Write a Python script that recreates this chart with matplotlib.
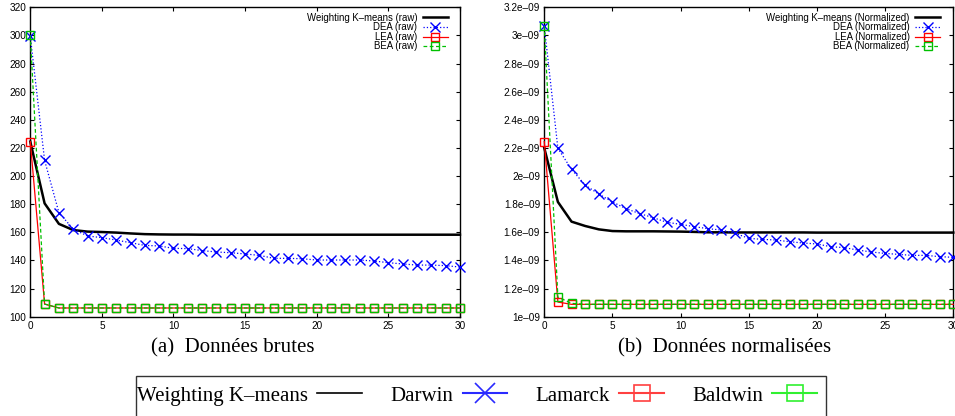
import matplotlib
matplotlib.use('Agg')
import matplotlib.pyplot as plt
import numpy as np
from matplotlib.lines import Line2D
from matplotlib.patches import Rectangle
from matplotlib.ticker import FuncFormatter

# iterations 0..30
iters = list(range(31))

# (a) raw data
wkm_raw = [224.5, 180.6, 166.0, 161.6, 160.5, 160.2, 159.8, 159.2, 158.7, 158.5,
           158.4, 158.4, 158.3, 158.3, 158.3, 158.3, 158.3, 158.3, 158.3, 158.3,
           158.3, 158.3, 158.3, 158.3, 158.3, 158.3, 158.3, 158.3, 158.3, 158.3, 158.3]
dea_raw = [299.5, 211.2, 174.0, 162.3, 157.4, 156.2, 154.5, 152.6, 150.7, 150.3,
           148.6, 148.4, 147.0, 146.0, 145.5, 144.6, 143.6, 141.5, 141.5, 141.2,
           140.3, 140.3, 140.3, 140.3, 139.6, 138.4, 137.5, 136.7, 136.7, 136.3, 135.3]
lea_raw = [224.5, 109.0, 106.2, 106.2, 106.2, 106.2, 106.2, 106.2, 106.2, 106.2,
           106.2, 106.2, 106.2, 106.2, 106.2, 106.2, 106.2, 106.2, 106.2, 106.2,
           106.2, 106.2, 106.2, 106.2, 106.2, 106.2, 106.2, 106.2, 106.2, 106.2, 106.2]
bea_raw = [300.0, 109.0, 106.2, 106.2, 106.2, 106.2, 106.2, 106.2, 106.2, 106.2,
           106.2, 106.2, 106.2, 106.2, 106.2, 106.2, 106.2, 106.2, 106.2, 106.2,
           106.2, 106.2, 106.2, 106.2, 106.2, 106.2, 106.2, 106.2, 106.2, 106.2, 106.2]

# (b) normalized data, in units of 1e-09
wkm_norm = [2.200, 1.816, 1.676, 1.645, 1.621, 1.609, 1.607, 1.607, 1.607, 1.606,
            1.605, 1.603, 1.600, 1.600, 1.599, 1.599, 1.599, 1.599, 1.599, 1.599,
            1.598, 1.598, 1.598, 1.598, 1.598, 1.598, 1.598, 1.598, 1.598, 1.598, 1.598]
dea_norm = [3.067, 2.197, 2.048, 1.936, 1.872, 1.816, 1.768, 1.733, 1.704, 1.671,
            1.657, 1.640, 1.626, 1.616, 1.593, 1.557, 1.550, 1.545, 1.533, 1.524,
            1.517, 1.498, 1.491, 1.474, 1.460, 1.450, 1.443, 1.436, 1.436, 1.427, 1.422]
lea_norm = [2.245, 1.104, 1.088, 1.088, 1.088, 1.088, 1.088, 1.088, 1.088, 1.088,
            1.088, 1.088, 1.088, 1.088, 1.088, 1.088, 1.088, 1.088, 1.088, 1.088,
            1.088, 1.088, 1.088, 1.088, 1.088, 1.088, 1.088, 1.088, 1.088, 1.088, 1.088]
bea_norm = [3.067, 1.140, 1.095, 1.088, 1.088, 1.088, 1.088, 1.088, 1.088, 1.088,
            1.088, 1.088, 1.088, 1.088, 1.088, 1.088, 1.088, 1.088, 1.088, 1.088,
            1.088, 1.088, 1.088, 1.088, 1.088, 1.088, 1.088, 1.088, 1.088, 1.088, 1.088]

SANS = 'Liberation Sans'
SERIF = 'Liberation Serif'

BLUE = '#0000ff'
RED = '#ff0000'
GREEN = '#00c000'

fig = plt.figure(figsize=(9.55, 4.16), dpi=100)
ax_a = fig.add_axes([0.0317, 0.2387, 0.4499, 0.7438])
ax_b = fig.add_axes([0.5699, 0.2387, 0.4283, 0.7438])


def draw_panel(ax, wkm, dea, lea, bea, tag, anchor_x):
    ax.plot(iters, wkm, color='black', lw=1.8, label='Weighting K\u2013means (%s)' % tag,
            clip_on=False, zorder=3)
    ax.plot(iters, dea, color=BLUE, lw=0.9, ls=':', marker='x', ms=7, mew=1.0,
            label='DEA (%s)' % tag, clip_on=False, zorder=4)
    ax.plot(iters, lea, color=RED, lw=0.9, marker='s', ms=6, mew=1.0, mfc='none',
            label='LEA (%s)' % tag, clip_on=False, zorder=5)
    ax.plot(iters, bea, color=GREEN, lw=0.9, ls=(0, (3, 2)), marker='s', ms=6, mew=1.0,
            mfc='none', label='BEA (%s)' % tag, clip_on=False, zorder=6)
    ax.set_xlim(0, 30)
    ax.set_xticks(range(0, 31, 5))
    ax.tick_params(direction='in', length=3, width=0.8, top=True, right=True,
                   labelsize=7.2, pad=3)
    for lab in ax.get_xticklabels() + ax.get_yticklabels():
        lab.set_family(SANS)
    for sp in ax.spines.values():
        sp.set_linewidth(1.0)
    ax.legend(loc='upper right', bbox_to_anchor=(anchor_x, 0.982), frameon=False,
              markerfirst=False, prop={'family': SANS, 'size': 6.9}, handlelength=2.6,
              handletextpad=0.6, labelspacing=-0.05, borderaxespad=0, borderpad=0)


draw_panel(ax_a, wkm_raw, dea_raw, lea_raw, bea_raw, 'raw', 0.972)
ax_a.set_ylim(100, 320)
ax_a.set_yticks(range(100, 321, 20))
for lab in ax_a.get_yticklabels():
    lab.set_family(SANS)

scale = 1e-9
draw_panel(ax_b, np.array(wkm_norm) * scale, np.array(dea_norm) * scale,
           np.array(lea_norm) * scale, np.array(bea_norm) * scale, 'Normalized', 0.968)
ax_b.set_ylim(1.0e-9, 3.2e-9)
ax_b.set_yticks(np.arange(1.0, 3.3, 0.2) * scale)
ax_b.yaxis.set_major_formatter(FuncFormatter(lambda v, p: ('%g' % v).replace('-', '\u2013')))
for lab in ax_b.get_yticklabels():
    lab.set_family(SANS)

# subfigure captions
fig.text(233 / 955, 1 - 348 / 416, '(a)  Donn\u00e9es brutes', family=SERIF,
         fontsize=15, ha='center', va='center')
fig.text(725 / 955, 1 - 348 / 416, '(b)  Donn\u00e9es normalis\u00e9es', family=SERIF,
         fontsize=15, ha='center', va='center')

# shared legend below the panels
handles = [
    Line2D([], [], color='black', lw=1.2),
    Line2D([], [], color='#2a2aff', lw=1.5, marker='x', ms=14, mew=1.2),
    Line2D([], [], color='#ff4040', lw=1.5, marker='s', ms=11, mew=1.2, mfc='none'),
    Line2D([], [], color='#30f030', lw=1.5, marker='s', ms=11, mew=1.2, mfc='none'),
]
labels = ['Weighting K\u2013means', 'Darwin', 'Lamarck', 'Baldwin']
fig.legend(handles, labels, loc='center left', bbox_to_anchor=(137 / 955, 1 - 396 / 416),
           ncol=4, frameon=False, markerfirst=False, prop={'family': SERIF, 'size': 15},
           handlelength=2.15, handletextpad=0.45, columnspacing=1.35,
           borderpad=0, borderaxespad=0)
fig.patches.append(Rectangle((136 / 955, -0.1), 690 / 955, (416 - 376) / 416 + 0.1,
                             transform=fig.transFigure, fill=False,
                             edgecolor='#333333', lw=1.0))

fig.savefig('out.png', dpi=100)
